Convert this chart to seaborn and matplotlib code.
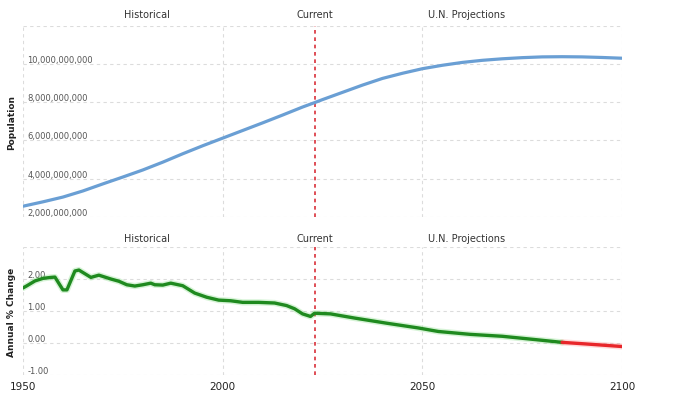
import numpy as np
import pandas as pd
import seaborn as sns
import matplotlib.pyplot as plt
from matplotlib.ticker import FuncFormatter

# ---- data ----
pop_years = [1950, 1955, 1960, 1965, 1970, 1975, 1980, 1985, 1990, 1995, 2000, 2005,
             2010, 2015, 2020, 2023, 2025, 2030, 2035, 2040, 2045, 2050, 2055, 2060,
             2065, 2070, 2075, 2080, 2085, 2090, 2095, 2100]
pop_values = [2.55e9, 2.78e9, 3.03e9, 3.35e9, 3.72e9, 4.08e9, 4.45e9, 4.86e9, 5.30e9,
              5.72e9, 6.12e9, 6.52e9, 6.92e9, 7.33e9, 7.75e9, 7.98e9, 8.14e9, 8.52e9,
              8.90e9, 9.25e9, 9.52e9, 9.76e9, 9.94e9, 10.09e9, 10.20e9, 10.28e9,
              10.34e9, 10.38e9, 10.39e9, 10.38e9, 10.35e9, 10.31e9]

chg_years = [1950, 1951, 1953, 1955, 1957, 1958, 1960, 1961, 1963, 1964, 1967, 1969,
             1972, 1974, 1976, 1978, 1980, 1982, 1983, 1985, 1987, 1990, 1993, 1996,
             1999, 2002, 2005, 2009, 2013, 2016, 2018, 2020, 2022, 2023, 2025, 2027,
             2033, 2041, 2049, 2054, 2062, 2070, 2078, 2085, 2091, 2100]
chg_values = [1.72, 1.79, 1.94, 2.02, 2.05, 2.06, 1.66, 1.66, 2.25, 2.28, 2.05, 2.12,
              2.00, 1.93, 1.82, 1.78, 1.82, 1.87, 1.82, 1.81, 1.87, 1.79, 1.56, 1.43,
              1.34, 1.32, 1.27, 1.27, 1.25, 1.17, 1.07, 0.91, 0.83, 0.93, 0.92, 0.91,
              0.78, 0.62, 0.47, 0.36, 0.27, 0.21, 0.11, 0.02, -0.03, -0.11]

x_ticks = [1950, 2000, 2050, 2100]
pop_ticks = [2e9, 4e9, 6e9, 8e9, 10e9]
chg_ticks = [-1.0, 0.0, 1.0, 2.0]
current_year = 2023
annotations = [("Historical", 1981), ("Current", 2023), ("U.N. Projections", 2061)]

# ---- styling ----
sns.set_theme(style="white")
plt.rcParams['font.family'] = ['DejaVu Sans']

fig = plt.figure(figsize=(6.8, 4.02), dpi=100)
ax1 = fig.add_axes([23/680, 1-217.7/402, (622-23)/680, (217.7-27)/402])
ax2 = fig.add_axes([23/680, 1-376/402, (622-23)/680, (376-248)/402], sharex=ax1)

pop_df = pd.DataFrame({"year": pop_years, "pop": pop_values})
sns.lineplot(data=pop_df, x="year", y="pop", ax=ax1, color="#6a9fd4", linewidth=2.3)

chg = np.array(chg_values)
first_neg = int(np.argmax(chg < 0))
green_df = pd.DataFrame({"year": chg_years[:first_neg], "chg": chg_values[:first_neg]})
red_df = pd.DataFrame({"year": chg_years[first_neg-1:], "chg": chg_values[first_neg-1:]})
sns.lineplot(data=green_df, x="year", y="chg", ax=ax2, color="#5fd35f", linewidth=4.5, alpha=0.25)
sns.lineplot(data=red_df, x="year", y="chg", ax=ax2, color="#ff7070", linewidth=4.5, alpha=0.25)
sns.lineplot(data=green_df, x="year", y="chg", ax=ax2, color="#1f8a1f", linewidth=2.4)
sns.lineplot(data=red_df, x="year", y="chg", ax=ax2, color="#e8262a", linewidth=2.4)

ax1.set_ylim(2e9, 12e9)
ax2.set_ylim(-1, 3)
ax1.set_xlim(1950, 2100)

grid_kw = dict(color="#dcdcdc", linestyle=(0, (3, 3)), linewidth=0.8)
for ax, yt in [(ax1, pop_ticks + [12e9]), (ax2, chg_ticks + [3.0])]:
    for s in ax.spines.values():
        s.set_visible(False)
    for y in yt:
        ax.axhline(y, zorder=0, **grid_kw)
    for x in x_ticks:
        ax.axvline(x, zorder=0, **grid_kw)
    ax.axvline(current_year, color="#d9303a", linestyle=(0, (2.2, 2.2)), linewidth=1.2, zorder=1)
    ax.grid(False)
    ax.set_xlabel("")

ax1.set_yticks(pop_ticks)
ax1.yaxis.set_major_formatter(FuncFormatter(lambda v, p: f"{int(v):,}"))
ax2.set_yticks(chg_ticks)
ax2.yaxis.set_major_formatter(FuncFormatter(lambda v, p: f"{v:.2f}"))
for ax in (ax1, ax2):
    ax.tick_params(axis="y", length=0, pad=-3, labelsize=6, labelcolor="#555555")
    for lab in ax.get_yticklabels():
        lab.set_horizontalalignment("left")
        lab.set_verticalalignment("bottom")

ax1.set_xticks(x_ticks)
ax1.tick_params(axis="x", labelbottom=False, length=0)
ax2.set_xticks(x_ticks)
ax2.set_xticklabels([str(x) for x in x_ticks])
ax2.tick_params(axis="x", length=0, pad=4, labelsize=7.5, labelcolor="#222222")

ax1.set_ylabel("Population", fontsize=6.5, fontweight="bold", color="#222222")
ax2.set_ylabel("Annual % Change", fontsize=6.5, fontweight="bold", color="#222222")
ax1.yaxis.set_label_coords(-0.011, 0.5)
ax2.yaxis.set_label_coords(-0.011, 0.5)

for ax in (ax1, ax2):
    for text, yr in annotations:
        ax.text(yr, 1.035, text, transform=ax.get_xaxis_transform(), ha="center", va="bottom",
                fontsize=7, color="#333333")

fig.savefig("out.png", dpi=100, facecolor="white")
